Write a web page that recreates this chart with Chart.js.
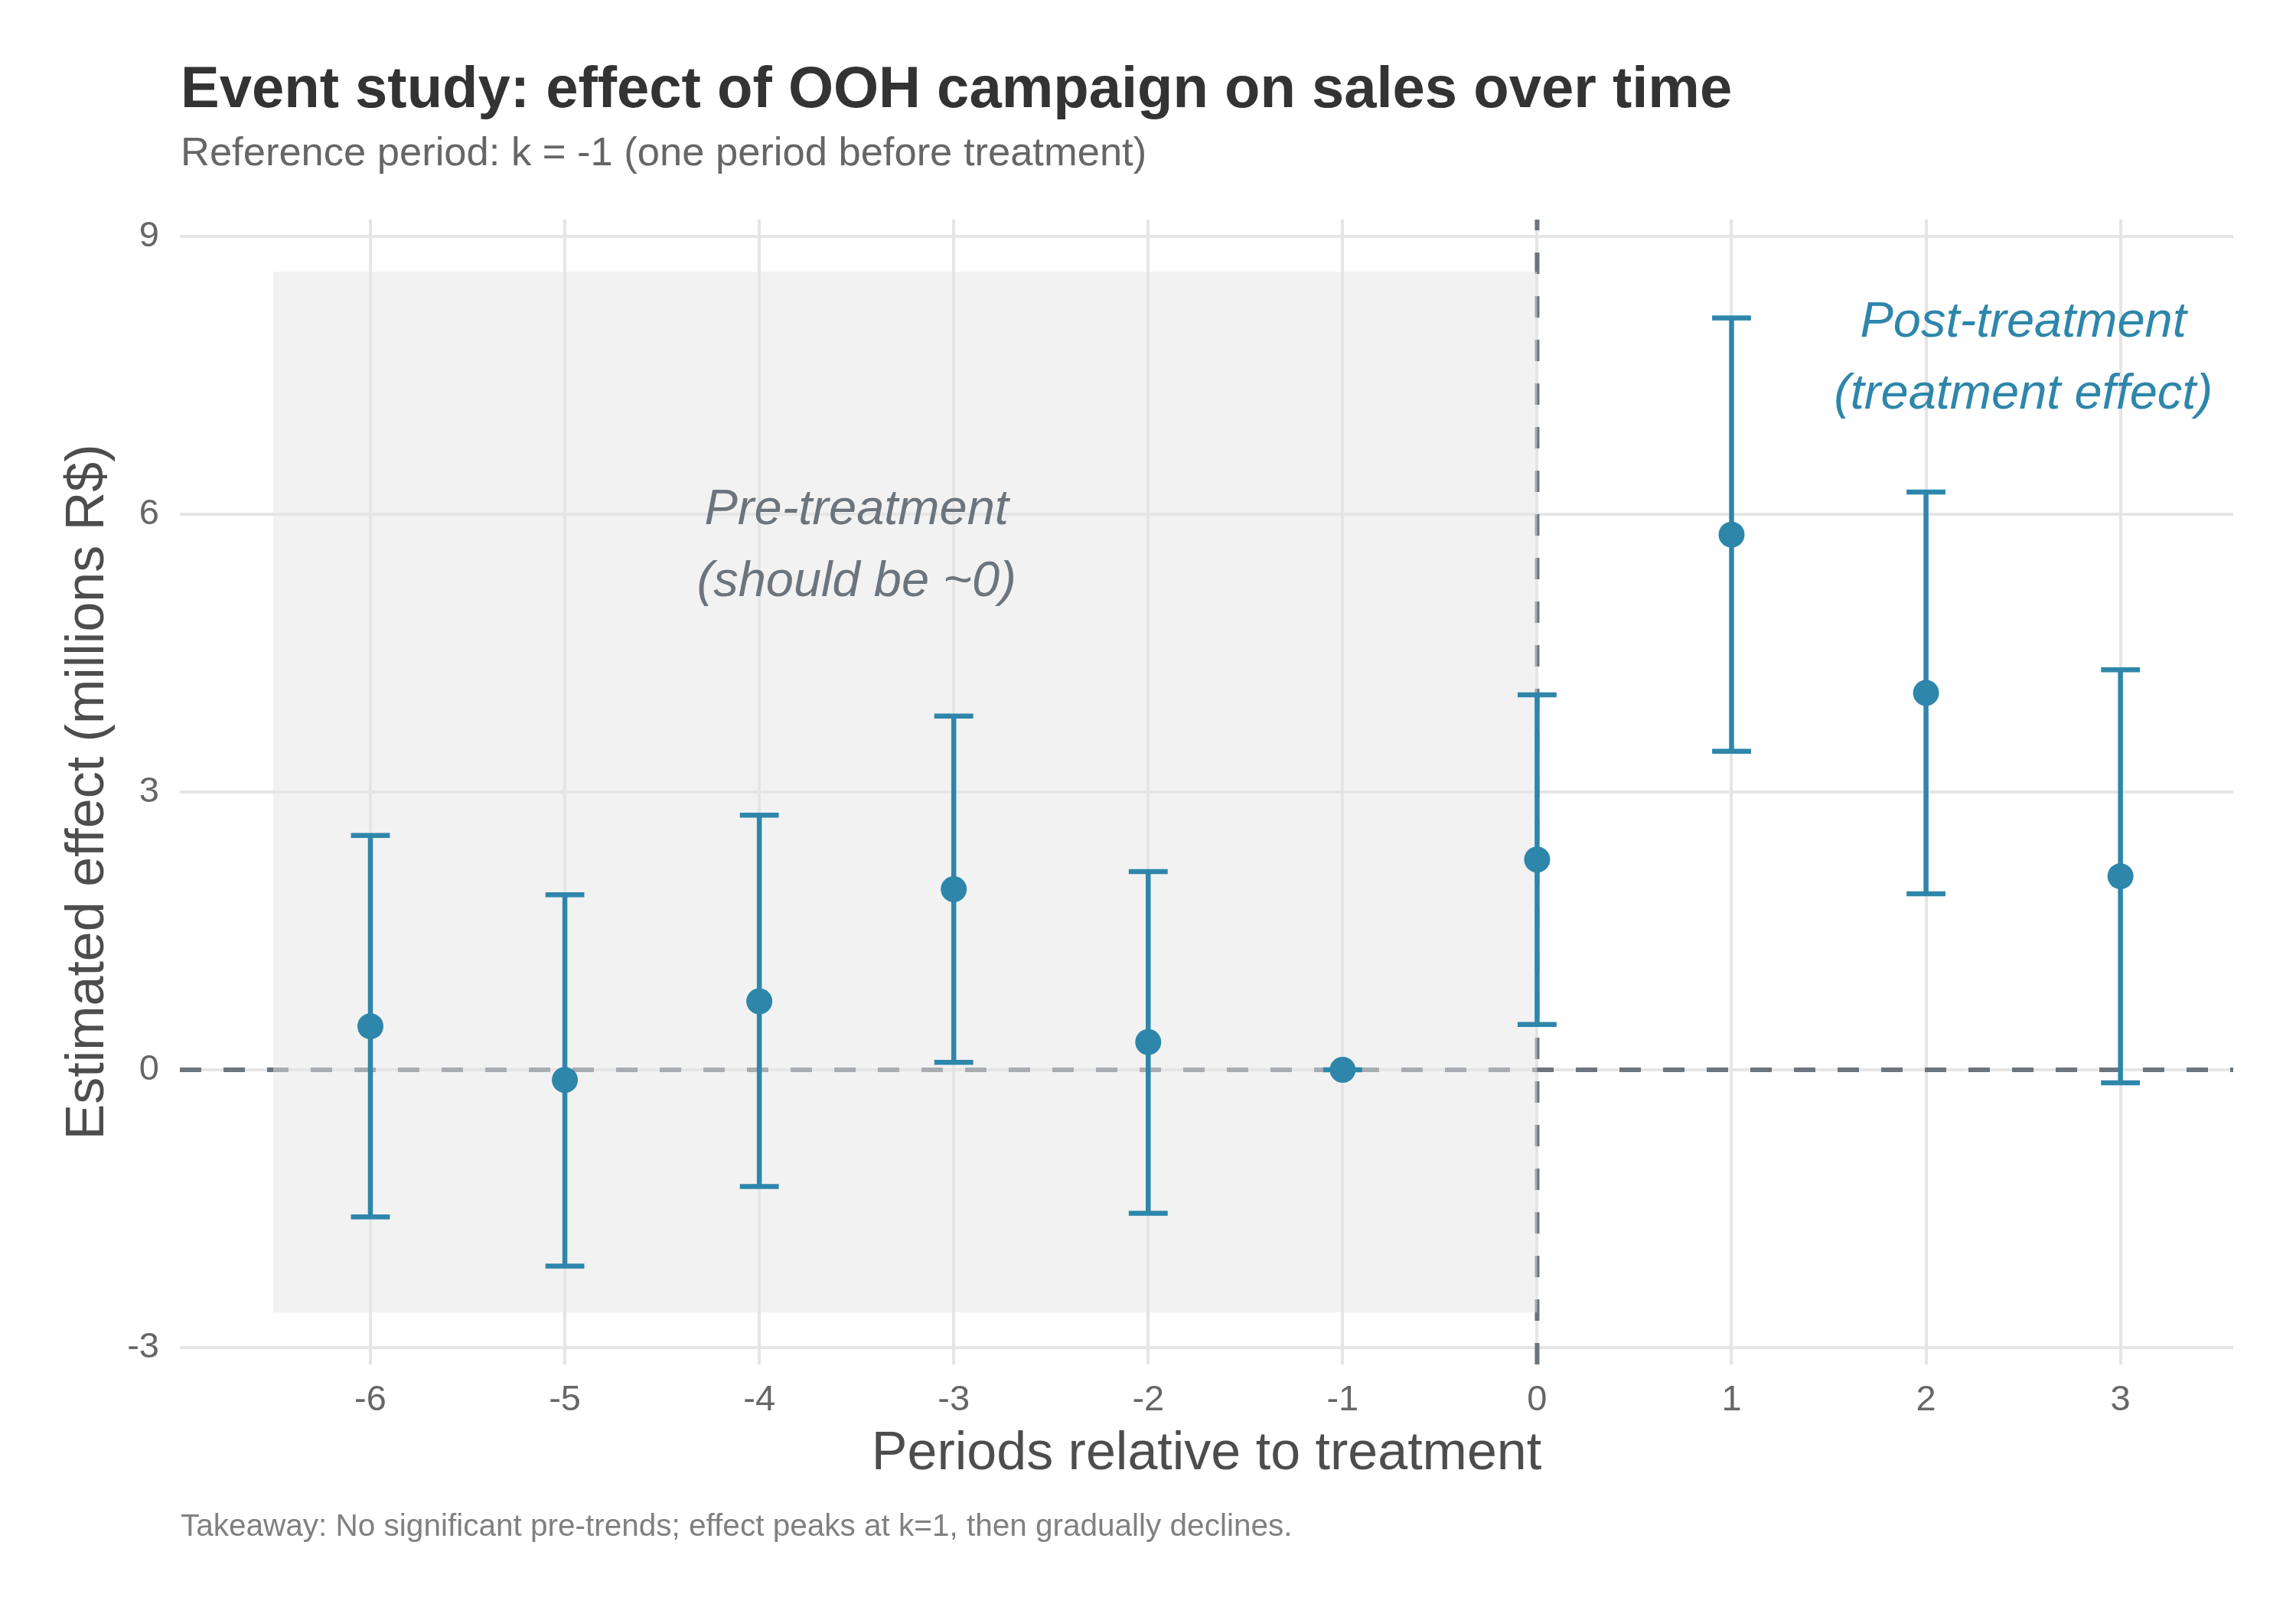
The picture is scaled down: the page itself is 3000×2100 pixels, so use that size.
<!DOCTYPE html>
<html>
<head>
<meta charset="utf-8">
<script src="https://cdn.jsdelivr.net/npm/chart.js@4.4.1/dist/chart.umd.min.js"></script>
<style>
  html, body { margin: 0; padding: 0; background: #ffffff; }
  #wrap { width: 3000px; height: 2100px; }
</style>
</head>
<body>
<div id="wrap"><canvas id="es" width="3000" height="2100"></canvas></div>
<script>
// event study estimates
const periods   = [-6, -5, -4, -3, -2, -1, 0, 1, 2, 3];
const estimates = [0.47, -0.11, 0.74, 1.95, 0.30, 0, 2.27, 5.78, 4.07, 2.09];
const ciLower   = [-1.59, -2.12, -1.26, 0.08, -1.55, 0, 0.49, 3.44, 1.90, -0.14];
const ciUpper   = [2.53, 1.89, 2.75, 3.82, 2.14, 0, 4.05, 8.12, 6.24, 4.32];

const xTicks = [-6, -5, -4, -3, -2, -1, 0, 1, 2, 3];
const yTicks = [-3, 0, 3, 6, 9];

const shadeFrom = -6.5;
const shadeTo = 0;
const capWidth = 0.2;

const BLUE = '#2E86AB';
const GREY = '#6c757d';
const FONT = '"Liberation Sans", Arial, Helvetica, sans-serif';

const overlay = {
  id: 'overlay',
  beforeDatasetsDraw(chart) {
    const { ctx, chartArea: a, scales: { x, y } } = chart;
    ctx.save();

    // reference lines
    ctx.strokeStyle = GREY;
    ctx.lineWidth = 6;
    ctx.setLineDash([28, 29]);
    const y0 = y.getPixelForValue(0);
    ctx.beginPath();
    ctx.moveTo(a.left, y0);
    ctx.lineTo(a.right, y0);
    ctx.stroke();
    const x0 = x.getPixelForValue(0);
    ctx.beginPath();
    ctx.moveTo(x0, a.bottom);
    ctx.lineTo(x0, a.top);
    ctx.stroke();
    ctx.setLineDash([]);

    // pre-treatment shading
    const lo = Math.min(...ciLower) - 0.5;
    const hi = Math.max(...ciUpper) + 0.5;
    const sx1 = x.getPixelForValue(shadeFrom), sx2 = x.getPixelForValue(shadeTo);
    const sy1 = y.getPixelForValue(hi), sy2 = y.getPixelForValue(lo);
    ctx.fillStyle = 'rgba(229,229,229,0.5)';
    ctx.fillRect(sx1, sy1, sx2 - sx1, sy2 - sy1);

    // error bars
    ctx.strokeStyle = BLUE;
    ctx.lineWidth = 6.5;
    periods.forEach((p, i) => {
      const px = x.getPixelForValue(p);
      const pl = x.getPixelForValue(p - capWidth / 2);
      const pr = x.getPixelForValue(p + capWidth / 2);
      const yl = y.getPixelForValue(ciLower[i]);
      const yu = y.getPixelForValue(ciUpper[i]);
      ctx.beginPath();
      ctx.moveTo(px, yl); ctx.lineTo(px, yu);
      ctx.moveTo(pl, yl); ctx.lineTo(pr, yl);
      ctx.moveTo(pl, yu); ctx.lineTo(pr, yu);
      ctx.stroke();
    });
    ctx.restore();
  },
  afterDraw(chart) {
    const { ctx, chartArea: a, scales: { x, y } } = chart;
    ctx.save();
    ctx.textAlign = 'left';
    ctx.textBaseline = 'alphabetic';

    ctx.fillStyle = '#333333';
    ctx.font = 'bold 76px ' + FONT;
    ctx.fillText('Event study: effect of OOH campaign on sales over time', 236, 140);

    ctx.fillStyle = '#666666';
    ctx.font = '52.5px ' + FONT;
    ctx.fillText('Reference period: k = -1 (one period before treatment)', 236, 216);

    ctx.fillStyle = '#808080';
    ctx.font = '40.5px ' + FONT;
    ctx.fillText('Takeaway: No significant pre-trends; effect peaks at k=1, then gradually declines.', 236, 2007);

    // axis titles
    ctx.fillStyle = '#4d4d4d';
    ctx.font = '70px ' + FONT;
    ctx.textAlign = 'center';
    ctx.fillText('Periods relative to treatment', (a.left + a.right) / 2, 1920);
    ctx.save();
    ctx.translate(135, (a.top + a.bottom) / 2);
    ctx.rotate(-Math.PI / 2);
    ctx.fillText('Estimated effect (millions R$)', 0, 0);
    ctx.restore();

    // annotations
    ctx.font = 'italic 65px ' + FONT;
    ctx.textBaseline = 'middle';
    ctx.fillStyle = GREY;
    let cx = x.getPixelForValue(-3.5), cy = y.getPixelForValue(5.65);
    ctx.fillText('Pre-treatment', cx, cy - 47);
    ctx.fillText('(should be ~0)', cx, cy + 47);
    ctx.fillStyle = BLUE;
    cx = x.getPixelForValue(2.5); cy = y.getPixelForValue(7.68);
    ctx.fillText('Post-treatment', cx, cy - 47);
    ctx.fillText('(treatment effect)', cx, cy + 47);
    ctx.restore();
  }
};

const chart = new Chart(document.getElementById('es'), {
  type: 'scatter',
  data: {
    datasets: [{
      data: periods.map((p, i) => ({ x: p, y: estimates[i] })),
      backgroundColor: BLUE,
      borderWidth: 0,
      pointRadius: 17,
      pointHoverRadius: 17
    }]
  },
  options: {
    responsive: false,
    devicePixelRatio: 1,
    animation: false,
    layout: { padding: { top: 287, left: 0, right: 82, bottom: 0 } },
    plugins: { legend: { display: false }, tooltip: { enabled: false } },
    scales: {
      x: {
        type: 'linear',
        min: -6.98,
        max: 3.58,
        afterFit: (s) => { s.height = 2100 - 1783; },
        afterBuildTicks: (s) => { s.ticks = xTicks.map(v => ({ value: v })); },
        grid: { color: '#e5e5e5', lineWidth: 4, drawTicks: false },
        border: { display: false },
        ticks: { padding: 19, color: '#666666', font: { family: FONT, size: 47 } }
      },
      y: {
        min: -3.182,
        max: 9.182,
        afterFit: (s) => { s.width = 235; },
        afterBuildTicks: (s) => { s.ticks = yTicks.map(v => ({ value: v })); },
        grid: { color: '#e5e5e5', lineWidth: 4, drawTicks: false },
        border: { display: false },
        ticks: { padding: 27, color: '#666666', font: { family: FONT, size: 47 } }
      }
    }
  },
  plugins: [overlay]
});
</script>
</body>
</html>
